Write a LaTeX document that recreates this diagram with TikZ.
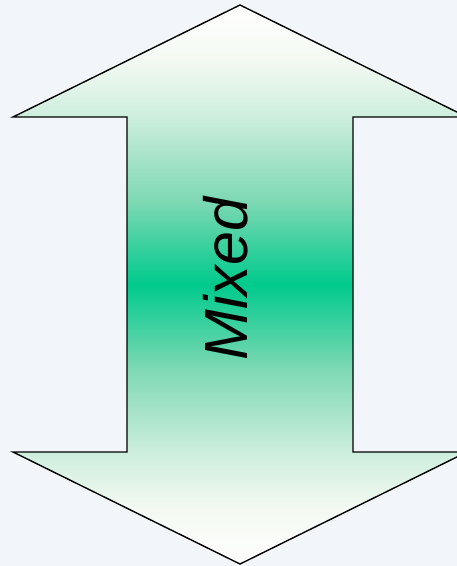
\documentclass[tikz,border=0pt]{standalone}
\usepackage{fontspec}
\setmainfont{Liberation Sans}
\usepackage{tikz}
\usetikzlibrary{shapes,positioning,calc}
\definecolor{sfondo}{RGB}{242,245,250}
\definecolor{verde}{RGB}{0,202,140}
\definecolor{verde1}{RGB}{243,249,241}
\definecolor{verde2}{RGB}{205,238,221}
\definecolor{verde3}{RGB}{126,216,180}
\pgfdeclareverticalshading{sfumato}{100bp}{color(0bp)=(white); color(25bp)=(white); color(30bp)=(verde1); color(35bp)=(verde2); color(42.5bp)=(verde3); color(50bp)=(verde); color(57.5bp)=(verde3); color(65bp)=(verde2); color(70bp)=(verde1); color(75bp)=(white); color(100bp)=(white)}
\tikzstyle{freccia} = [draw=black, line width=1.4pt, line join=miter, shading=sfumato]
\tikzstyle{etichetta} = [rotate=90, inner sep=0pt, font=\fontsize{61}{73}\selectfont\itshape]

\begin{document}
\begin{tikzpicture}[x=1pt,y=-1pt]
						\fill[sfondo] (0,0) rectangle (457,566);
						\useasboundingbox (0,0) rectangle (457,566);
						\coordinate (punta) at (240,5);
						\coordinate (fondo) at (240,564);
						\path[freccia] (punta) -- (467,117) -- (353,117) -- (353,452) -- (467,452)
							-- (fondo) -- (13,452) -- (127,452) -- (127,117) -- (13,117) -- cycle;
						\node[etichetta] (testo) at (226,279) {Mixed};
					\end{tikzpicture}
\end{document}
